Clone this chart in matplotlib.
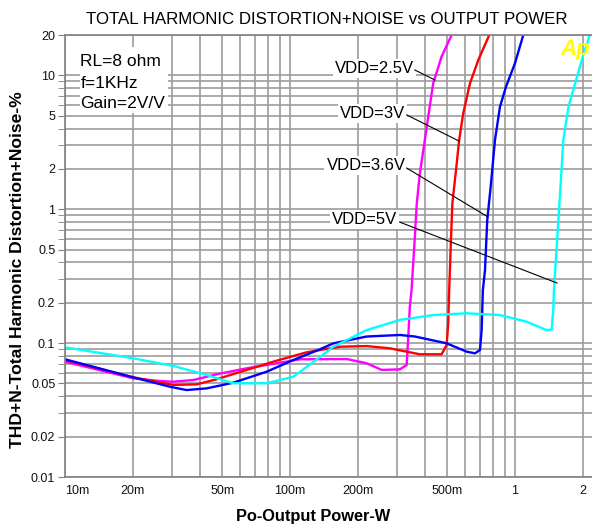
import matplotlib
matplotlib.use("Agg")
import matplotlib.pyplot as plt
from matplotlib.patches import Rectangle
import numpy as np

plt.rcParams['font.family'] = ['Liberation Sans', 'DejaVu Sans']

# ---- data ----
x_25 = [0.01, 0.0201, 0.0264, 0.0303, 0.0372, 0.0472, 0.0641, 0.0872, 0.111, 0.179,
        0.219, 0.256, 0.308, 0.330, 0.335, 0.341, 0.347, 0.359, 0.366, 0.378, 0.405,
        0.433, 0.472, 0.523]
y_25 = [0.0726, 0.0546, 0.0521, 0.0515, 0.0530, 0.0585, 0.0648, 0.0707, 0.0757, 0.0760,
        0.0707, 0.063, 0.0637, 0.0686, 0.1055, 0.187, 0.249, 0.62, 1.1, 1.86, 4.07,
        8.7, 13.8, 20]

x_3 = [0.01, 0.0201, 0.0303, 0.0385, 0.0472, 0.0641, 0.0872, 0.1187, 0.167, 0.219,
       0.278, 0.330, 0.378, 0.472, 0.497, 0.505, 0.51, 0.514, 0.52, 0.527, 0.547,
       0.565, 0.589, 0.631, 0.687, 0.769]
y_3 = [0.0748, 0.0555, 0.0487, 0.0492, 0.0537, 0.063, 0.0739, 0.0854, 0.094, 0.095,
       0.0914, 0.0863, 0.0825, 0.0825, 0.0968, 0.140, 0.249, 0.351, 0.623, 1.107, 1.96,
       3.29, 5.2, 8.7, 13.0, 20]

x_36 = [0.01, 0.0201, 0.0293, 0.0347, 0.0426, 0.0559, 0.0787, 0.1035, 0.1336, 0.156,
        0.219, 0.308, 0.359, 0.497, 0.610, 0.664, 0.699, 0.711, 0.72, 0.736, 0.753,
        0.78, 0.815, 0.858, 0.912, 1.0, 1.089]
y_36 = [0.0757, 0.0555, 0.0472, 0.0446, 0.0459, 0.0506, 0.0611, 0.0748, 0.0888, 0.0996,
        0.112, 0.115, 0.112, 0.0996, 0.0863, 0.0839, 0.0888, 0.125, 0.249, 0.351, 0.83,
        1.47, 3.29, 5.83, 8.2, 12.3, 20]

x_5 = [0.01, 0.0201, 0.0303, 0.0426, 0.0559, 0.0787, 0.1035, 0.1336, 0.156, 0.219,
       0.308, 0.434, 0.61, 0.858, 1.127, 1.383, 1.455, 1.48, 1.49, 1.51, 1.56, 1.61,
       1.64, 1.73, 1.85, 2.0, 2.15]
y_5 = [0.093, 0.077, 0.0675, 0.0578, 0.0501, 0.0501, 0.0561, 0.077, 0.094, 0.125,
       0.149, 0.162, 0.167, 0.162, 0.1445, 0.125, 0.126, 0.177, 0.249, 0.351, 0.83, 1.96,
       3.29, 5.83, 8.7, 13.7, 20]

series = [
    ("VDD=2.5V", x_25, y_25, "#ff00ff"),
    ("VDD=3V", x_3, y_3, "#ff0000"),
    ("VDD=3.6V", x_36, y_36, "#0000ff"),
    ("VDD=5V", x_5, y_5, "#00ffff"),
]

x_tick_vals = [0.01, 0.02, 0.05, 0.1, 0.2, 0.5, 1, 2]
x_tick_labels = ["10m", "20m", "50m", "100m", "200m", "500m", "1", "2"]
y_tick_vals = [0.01, 0.02, 0.05, 0.1, 0.2, 0.5, 1, 2, 5, 10, 20]
y_tick_labels = ["0.01", "0.02", "0.05", "0.1", "0.2", "0.5", "1", "2", "5", "10", "20"]

# annotation: label, text anchor (x, y), leader start, leader end
annotations = [
    ("VDD=2.5V", (0.356, 11.3), (0.359, 10.96), (0.441, 9.22)),
    ("VDD=3V", (0.326, 5.15), (0.330, 5.06), (0.564, 3.23)),
    ("VDD=3.6V", (0.326, 2.12), (0.330, 2.03), (0.759, 0.875)),
    ("VDD=5V", (0.300, 0.84), (0.308, 0.80), (1.538, 0.281)),
]

fig = plt.figure(figsize=(5.92, 5.30), dpi=100)
ax = fig.add_axes([65/592, 53/530, 527/592, 442/530])
ax.set_xscale('log')
ax.set_yscale('log')
ax.set_xlim(0.01, 2.2)
ax.set_ylim(0.01, 20)

grid_c = '#9c9c9c'
xgrid = [m * d for d in [0.01, 0.1, 1] for m in range(1, 10)]
xgrid = [v for v in xgrid if 0.01 <= v <= 2.2]
ygrid = [m * d for d in [0.01, 0.1, 1, 10] for m in range(1, 10)]
ygrid = [v for v in ygrid if 0.01 <= v <= 20]
for v in xgrid:
    ax.axvline(v, color=grid_c, lw=1.2, zorder=0.5)
for v in ygrid:
    ax.axhline(v, color=grid_c, lw=1.2, zorder=0.5)

ax.set_xticks(xgrid, minor=True)
ax.set_yticks(ygrid, minor=True)
ax.set_xticks(x_tick_vals)
ax.set_xticklabels(x_tick_labels)
ax.set_yticks(y_tick_vals)
ax.set_yticklabels(y_tick_labels)
ax.xaxis.set_minor_formatter(plt.NullFormatter())
ax.yaxis.set_minor_formatter(plt.NullFormatter())
ax.tick_params(axis='both', which='both', direction='out', color='#808080',
               labelsize=9, labelcolor='#111111')
ax.tick_params(axis='y', which='both', length=5, pad=2)
ax.tick_params(axis='x', which='both', length=0, pad=6)
xl = ax.get_xticklabels()
xl[0].set_ha('left')

for s in ['left', 'bottom', 'top']:
    ax.spines[s].set_color('#808080')
    ax.spines[s].set_linewidth(1.2)
ax.spines['right'].set_visible(False)

# white box behind conditions text
ax.add_patch(Rectangle((0.028, 0.824), 0.167, 0.149, transform=ax.transAxes,
                       facecolor='white', edgecolor='none', zorder=1))
ax.text(0.029, 0.94, "RL=8 ohm", transform=ax.transAxes, fontsize=12.5,
        va='center', ha='left', zorder=3)
ax.text(0.029, 0.89, "f=1KHz", transform=ax.transAxes, fontsize=12.5,
        va='center', ha='left', zorder=3)
ax.text(0.029, 0.845, "Gain=2V/V", transform=ax.transAxes, fontsize=12.5,
        va='center', ha='left', zorder=3)

for name, xs, ys, col in series:
    ax.plot(xs, ys, color=col, lw=1.7, zorder=2, clip_on=True)

for label, tpos, p0, p1 in annotations:
    ax.text(tpos[0], tpos[1], label, fontsize=12, ha='right', va='center', zorder=4,
            bbox=dict(facecolor='white', edgecolor='none', pad=1.5))
    ax.plot([p0[0], p1[0]], [p0[1], p1[1]], color='black', lw=0.8, zorder=5)

fig.text(590/592, 1 - 50/530, "Ap", color='#ffff00', fontsize=16, fontweight='bold',
         fontstyle='italic', ha='right', va='center', zorder=10)

fig.text(327/592, 1 - 19/530, "TOTAL HARMONIC DISTORTION+NOISE vs OUTPUT POWER",
         fontsize=12.2, ha='center', va='center')
fig.text(313/592, 1 - 517/530, "Po-Output Power-W", fontsize=11.8, fontweight='bold',
         ha='center', va='center')
fig.text(18/592, 1 - 270/530, "THD+N-Total Harmonic Distortion+Noise-%", fontsize=12.6,
         fontweight='bold', rotation=90, ha='center', va='center')

fig.savefig("out.png", dpi=100, facecolor='white')
